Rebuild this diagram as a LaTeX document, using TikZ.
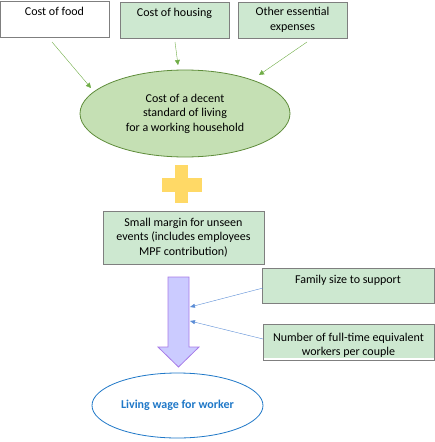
\documentclass[tikz,border=0pt]{standalone}
\usepackage{fontspec}
\setmainfont{Carlito}
\usetikzlibrary{shapes.geometric,arrows.meta}
\definecolor{boxgreen}{HTML}{CDE8D0}
\definecolor{boxedge}{HTML}{7F7F7F}
\definecolor{ellfill}{HTML}{C5E0B4}
\definecolor{elledge}{HTML}{5E8C3A}
\definecolor{arrgreen}{HTML}{70AD47}
\definecolor{plusyellow}{HTML}{FFD966}
\definecolor{lavender}{HTML}{CBCBFF}
\definecolor{purpleedge}{HTML}{A77BE8}
\definecolor{bluearr}{HTML}{5B8DD6}
\definecolor{wageblue}{HTML}{1F78C8}
\begin{document}
\begin{tikzpicture}[x=1pt,y=-1pt,
  font=\fontsize{12}{14.5}\selectfont,
  costbox/.style={draw=boxedge,line width=0.8pt,minimum width=109pt,minimum height=36pt,inner sep=0pt},
  greenbox/.style={costbox,fill=boxgreen},
  feedarrow/.style={draw=arrgreen,line width=0.4pt,-{Triangle[length=5pt,width=5pt]}},
  bluearrow/.style={draw=bluearr,line width=0.4pt,-{Triangle[length=5pt,width=4pt]}}]
\useasboundingbox (0,0) rectangle (435,442);
% top boxes
\node[costbox,fill=white] (food) at (54.5,19) {};
\node[anchor=north] (foodt) at (food.north) [yshift=-3pt] {Cost of food};
\node[greenbox] (housing) at (174.5,20) {};
\node[anchor=north] (housingt) at (housing.north) [yshift=-3pt] {Cost of housing};
\node[greenbox,align=center] (other) at (292.5,20) {Other essential\\expenses};
% ellipse
\node[ellipse,draw=elledge,fill=ellfill,line width=0.8pt,minimum width=210pt,minimum height=87pt,inner sep=0pt,align=center] (decent) at (185,113.5) {Cost of a decent\\standard of living\\for a working household};
% connectors
\coordinate (fa) at (52,42);
\coordinate (fb) at (91,88);
\coordinate (ha) at (175,42);
\coordinate (hb) at (178,65);
\coordinate (oa) at (307,42);
\coordinate (ob) at (259,75);
\draw[feedarrow] (fa) -- (fb);
\draw[feedarrow] (ha) -- (hb);
\draw[feedarrow] (oa) -- (ob);
% plus
\fill[plusyellow] (175,165) rectangle (188,203);
\fill[plusyellow] (162,177.5) rectangle (202,191.5);
% margin box
\node[draw=boxedge,fill=boxgreen,line width=0.8pt,minimum width=161pt,minimum height=53pt,inner sep=0pt,align=center] (margin) at (183.5,237.5) {Small margin for unseen\\events (includes employees\\MPF contribution)};
% big arrow
\draw[fill=lavender,draw=purpleedge,line width=0.8pt] (168,277) -- (189,277) -- (189,347) -- (199,347) -- (178.5,367) -- (158,347) -- (168,347) -- cycle;
% right boxes
\node[greenbox,minimum width=172pt,minimum height=35pt] (family) at (348,285.5) {};
\node[anchor=north] (familyt) at (family.north) [yshift=-4pt] {Family size to support};
\begin{scope}
\clip (262,320) rectangle (436,357.5);
\node[greenbox,minimum width=171pt,minimum height=36pt,align=center] (workers) at (348.5,342.5) {};
\node[anchor=north,align=center] (workerst) at (workers.north) [yshift=-5.5pt] {Number of full-time equivalent\\workers per couple};
\end{scope}
\draw[draw=boxedge,line width=0.8pt] (263,324.5) rectangle (434,360.5);
\coordinate (b1a) at (263,288);
\coordinate (b1b) at (190,307);
\coordinate (b2a) at (263,339);
\coordinate (b2b) at (190,321);
\draw[bluearrow] (b1a) -- (b1b);
\draw[bluearrow] (b2a) -- (b2b);
% wage ellipse
\node[ellipse,draw=wageblue,fill=white,line width=0.8pt,minimum width=171pt,minimum height=65pt,inner sep=0pt,text=wageblue,font=\fontsize{12}{14.5}\selectfont\bfseries] (wage) at (177.5,405.5) {Living wage for worker};
\end{tikzpicture}
\end{document}
